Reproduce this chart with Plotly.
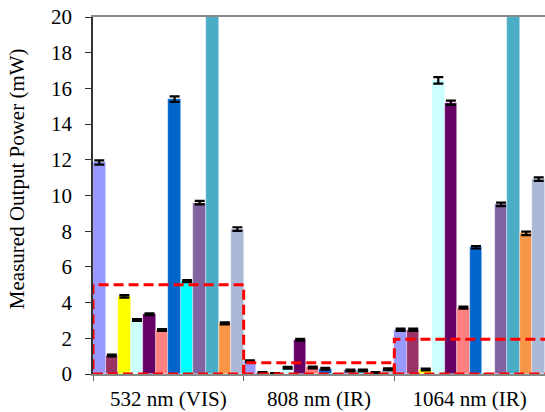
import plotly.graph_objects as go

categories = ["532 nm (VIS)", "808 nm (IR)", "1064 nm (IR)"]

series_colors = ["#9999FF", "#993366", "#FFFF00", "#CCFFFF", "#660066", "#FF8080",
                 "#0066CC", "#00FFFF", "#8064A2", "#4BACC6", "#F79646", "#ACB9D6"]

# values per series: [532, 808, 1064]
s01 = [11.85, 0.72, 2.48]
s02 = [1.03, 0.08, 2.48]
s03 = [4.35, 0.03, 0.25]
s04 = [3.02, 0.35, 16.45]
s05 = [3.35, 1.92, 15.2]
s06 = [2.46, 0.37, 3.72]
s07 = [15.4, 0.3, 7.1]
s08 = [5.2, 0.0, 0.0]
s09 = [9.6, 0.2, 9.5]
s10 = [22.0, 0.2, 22.0]
s11 = [2.84, 0.08, 7.88]
s12 = [8.12, 0.27, 10.92]

e01 = [0.12, 0.05, 0.06]
e02 = [0.05, 0.03, 0.06]
e03 = [0.07, 0.02, 0.05]
e04 = [0.05, 0.05, 0.18]
e05 = [0.05, 0.05, 0.12]
e06 = [0.05, 0.05, 0.06]
e07 = [0.15, 0.05, 0.07]
e08 = [0.06, 0.0, 0.0]
e09 = [0.1, 0.04, 0.1]
e10 = [0.0, 0.04, 0.0]
e11 = [0.06, 0.03, 0.1]
e12 = [0.1, 0.05, 0.1]

series_values = [s01, s02, s03, s04, s05, s06, s07, s08, s09, s10, s11, s12]
series_errors = [e01, e02, e03, e04, e05, e06, e07, e08, e09, e10, e11, e12]

# highlight boxes (upper bound per category, mW)
box_tops = [5.0, 0.63, 1.94]
box_right_extra = [0.0, 0.0, 0.05]

y_ticks = [0, 2, 4, 6, 8, 10, 12, 14, 16, 18, 20]

fig = go.Figure()
for vals, errs, col in zip(series_values, series_errors, series_colors):
    fig.add_trace(go.Bar(
        x=categories, y=vals,
        marker=dict(color=col, line=dict(color="rgba(255,255,255,0.6)", width=0.6)),
        error_y=dict(type="data", array=errs, visible=True, color="black",
                     thickness=2.2, width=5),
        cliponaxis=True,
    ))

for i, (top, extra) in enumerate(zip(box_tops, box_right_extra)):
    fig.add_shape(type="rect", xref="x", yref="y",
                  x0=i - 0.5, x1=i + 0.5 + extra, y0=0, y1=top,
                  line=dict(color="#FF0000", width=3, dash="10px,5px"),
                  fillcolor="rgba(0,0,0,0)", layer="above")

serif = "Liberation Serif, Times New Roman, serif"

fig.add_annotation(text="Measured Output Power (mW)", textangle=-90,
                   xref="paper", yref="paper", x=-0.168, y=0.546,
                   xanchor="center", yanchor="middle", showarrow=False,
                   font=dict(family=serif, size=21, color="black"))

fig.update_layout(
    width=545, height=412,
    margin=dict(l=93, r=0, t=17, b=38, autoexpand=False),
    barmode="group", bargap=0, bargroupgap=0,
    showlegend=False,
    plot_bgcolor="white", paper_bgcolor="white",
    font=dict(family=serif, size=20, color="black"),
)
fig.update_xaxes(range=[-0.5, 2.5], showline=True, linecolor="#888888", linewidth=2,
                 mirror=True, ticks="outside", tickson="boundaries", ticklen=5,
                 tickcolor="#666666", showgrid=False, automargin=False,
                 ticklabelstandoff=5,
                 tickfont=dict(family=serif, size=21, color="black"))
fig.update_yaxes(range=[0, 20], tickvals=y_ticks, showline=True,
                 linecolor="#333333", linewidth=1.5, ticks="outside", ticklen=6,
                 tickcolor="#333333", showgrid=False, zeroline=False, automargin=False,
                 ticklabelstandoff=9,
                 tickfont=dict(family=serif, size=21, color="black"))

fig.write_html("out.html", config={"displayModeBar": False},
               post_script="document.body.style.margin='0';document.body.style.padding='0';")
